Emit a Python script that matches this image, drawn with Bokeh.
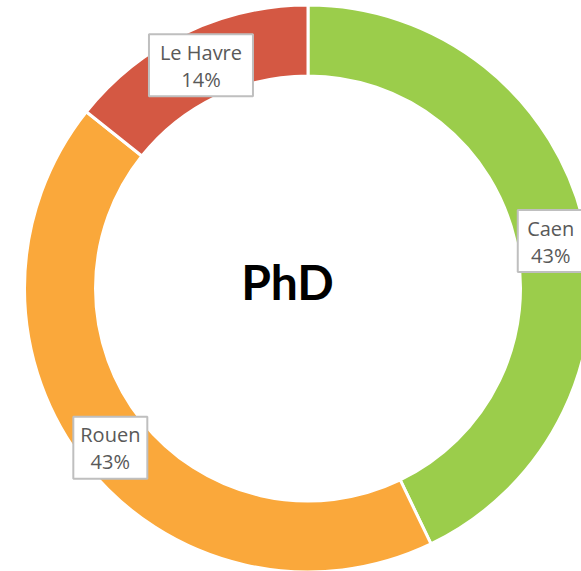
import numpy as np
from bokeh.plotting import figure
from bokeh.models import Range1d, ColumnDataSource
from bokeh.core.properties import value
from bokeh.embed import file_html
from bokeh.resources import INLINE

# ---- data ----
cities = ["Caen", "Rouen", "Le Havre"]
counts = [3, 3, 1]
colors = ["#9BCD4B", "#FAA83B", "#D45843"]
title_text = "PhD"

# ---- styling ----
box_widths = [66, 74, 104]
label_nudge_x = [0, -3, 1]
label_nudge_y = [-8, -4, -1]
box_height = 62
r_inner = 212.5
r_outer = 283.5
r_label = 249

vals = np.array(counts, dtype=float)
frac = vals / vals.sum()
cum = np.concatenate([[0], np.cumsum(frac)])
start = np.pi / 2 - cum[:-1] * 2 * np.pi
end = np.pi / 2 - cum[1:] * 2 * np.pi
mid = (start + end) / 2
pct = [f"{round(f * 100)}%" for f in frac]

src = ColumnDataSource(dict(
    city=cities, start=start, end=end, color=colors,
    lx=r_label * np.cos(mid) + np.array(label_nudge_x),
    ly=r_label * np.sin(mid) + np.array(label_nudge_y),
    pct=pct, bw=box_widths,
))

W, H = 581, 571
p = figure(width=W, height=H, output_backend="svg", toolbar_location=None,
           x_range=Range1d(-307.5, -307.5 + W), y_range=Range1d(288 - H, 288),
           min_border=0)
p.axis.visible = False
p.grid.visible = False
p.outline_line_color = None
p.background_fill_color = "white"

p.annular_wedge(x=0, y=0, inner_radius=r_inner, outer_radius=r_outer,
                start_angle="start", end_angle="end", direction="clock",
                fill_color="color", line_color="white", line_width=3, source=src)

p.rect(x="lx", y="ly", width="bw", height=box_height, fill_color="white",
       line_color="#BFBFBF", line_width=2, source=src)

p.text(x="lx", y="ly", text="city", x_offset=0, y_offset=-13,
       text_align="center", text_baseline="middle",
       text_font=value("Open Sans"), text_font_size="20px",
       text_color="#595959", source=src)
p.text(x="lx", y="ly", text="pct", x_offset=0, y_offset=14,
       text_align="center", text_baseline="middle",
       text_font=value("Open Sans"), text_font_size="20px",
       text_color="#595959", source=src)

p.text(x=[-20.5], y=[7], text=[title_text], text_align="center",
       text_baseline="middle", text_font=value("Lato"),
       text_font_size="48px", text_font_style="bold", text_color="black")

open("out.html", "w").write(file_html(p, INLINE))
